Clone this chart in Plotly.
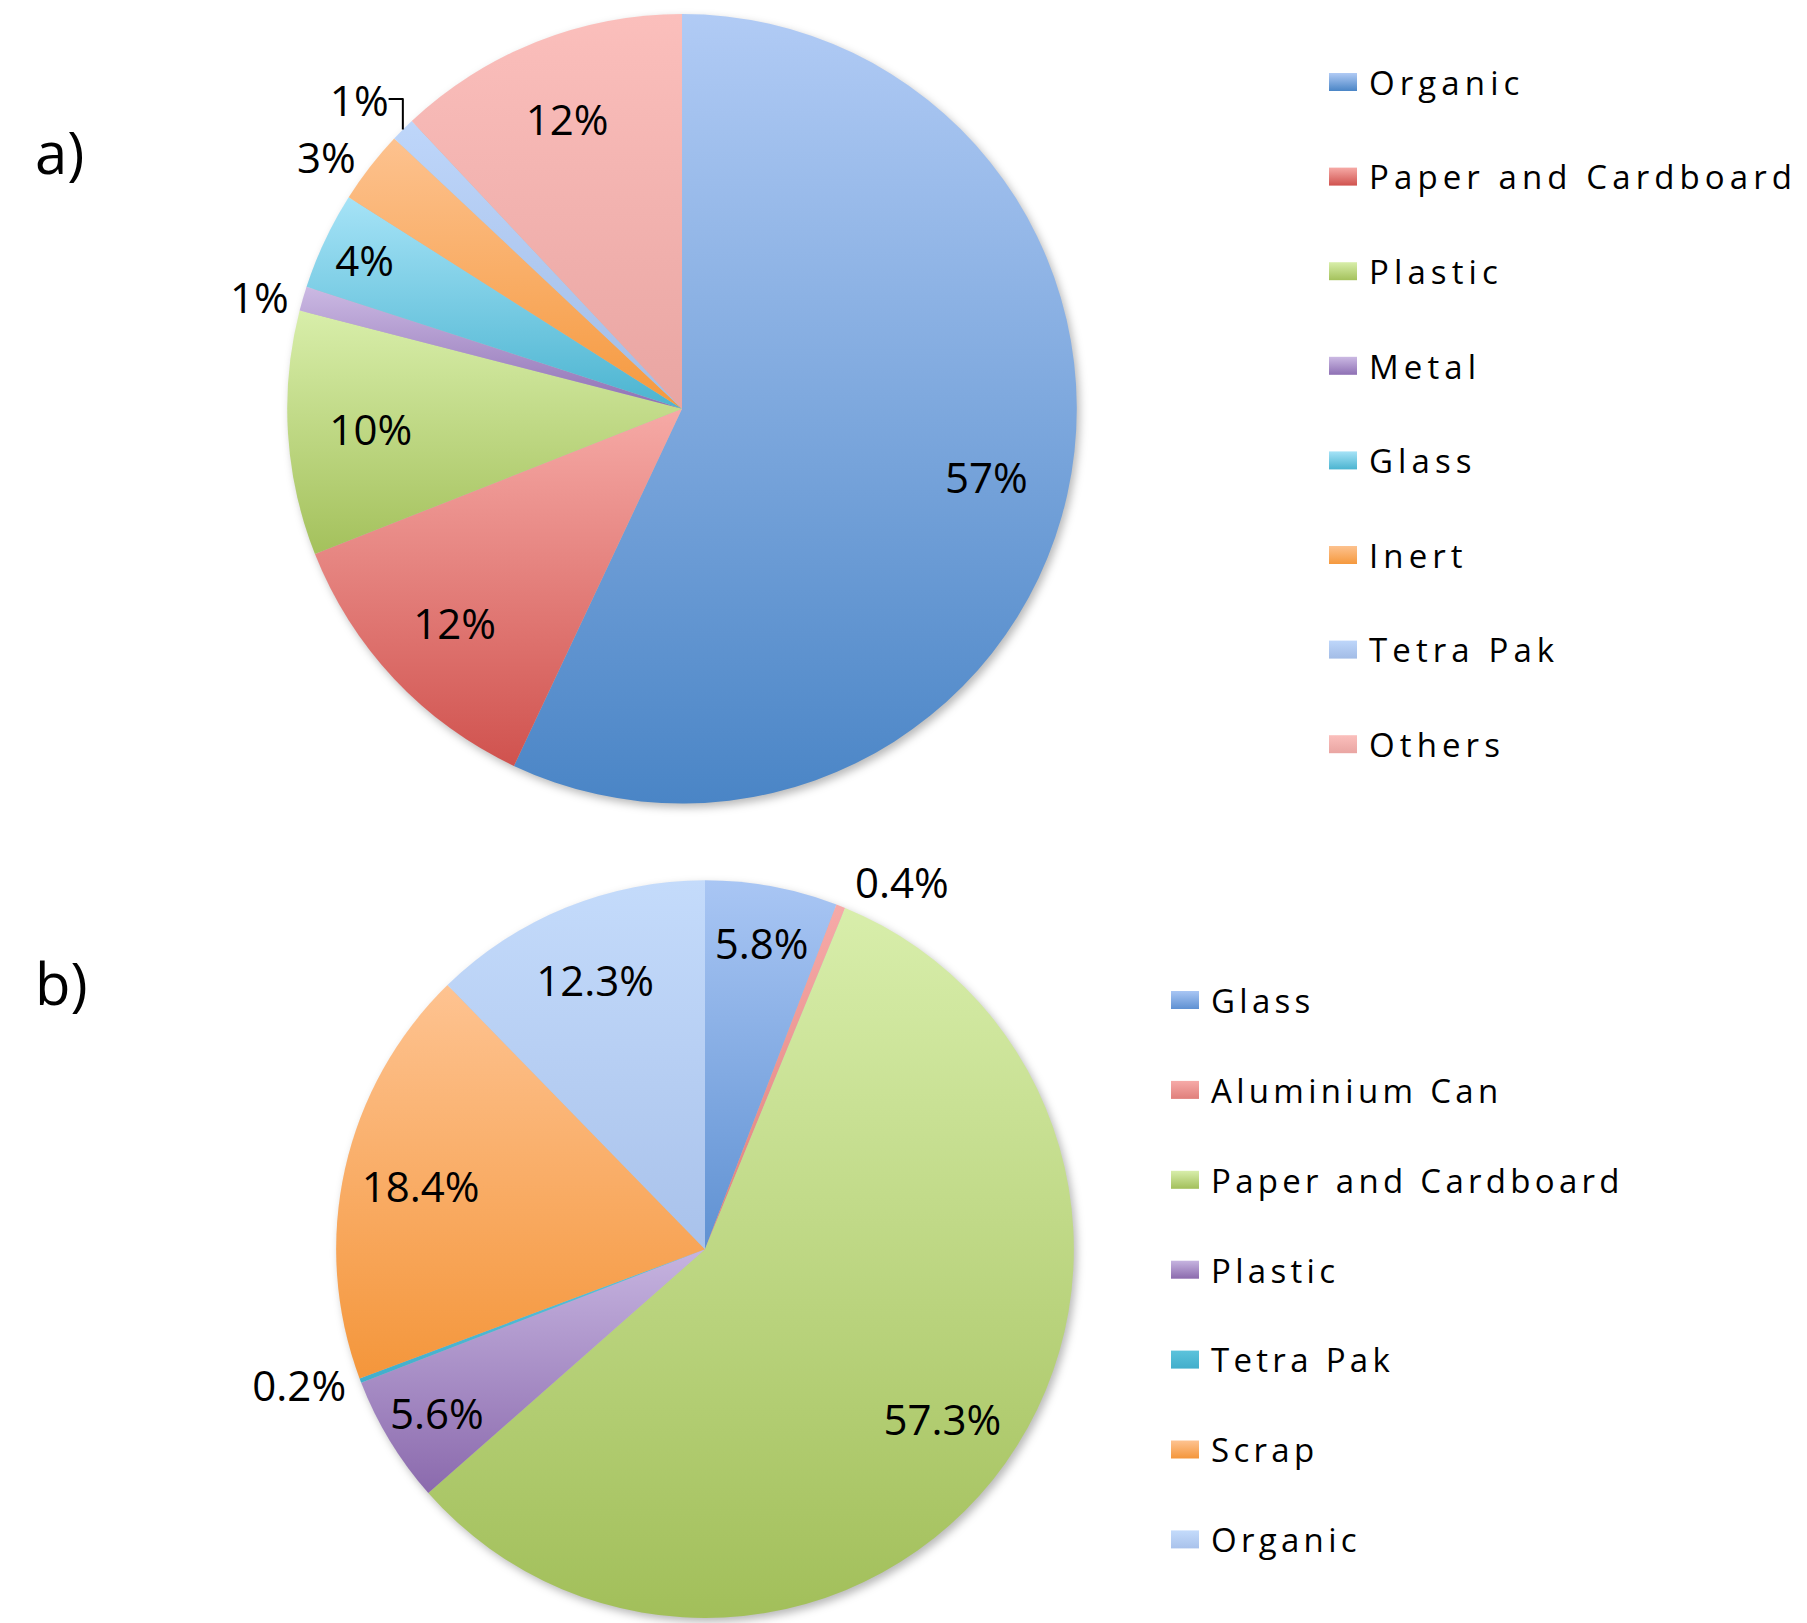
import json
import plotly.graph_objects as go

# ---------------- data ----------------
# a) composition of the waste stream (%)
a_labels = ["Organic", "Paper and Cardboard", "Plastic", "Metal", "Glass",
            "Inert", "Tetra Pak", "Others"]
a_values = [57, 12, 10, 1, 4, 3, 1, 12]

# b) composition of the recovered material (%)
b_labels = ["Glass", "Aluminium Can", "Paper and Cardboard", "Plastic",
            "Tetra Pak", "Scrap", "Organic"]
b_values = [5.8, 0.4, 57.3, 5.6, 0.2, 18.4, 12.3]

# ---------------- styles ----------------
a_colors = ["#79A4DC", "#E3857F", "#C3DC8A", "#B19BCF", "#7ACCE5",
            "#F9AD66", "#B4CDF1", "#F2B3B0"]
b_colors = ["#8EB0E6", "#F1A2A0", "#BED886", "#A78FC9", "#4BB6D3",
            "#F9AE66", "#B8CFF4"]
# vertical gradient (top, bottom) of each slice, as in the original
a_grad = [["#B1CBF5", "#4A85C6"], ["#F6AAA6", "#D0524E"], ["#D8EEAA", "#A4C15C"],
          ["#CBB9E3", "#8E70B4"], ["#A6E3F7", "#4BB4D0"], ["#FDC28F", "#F5993E"],
          ["#BED6FA", "#A2BCE6"], ["#FBBFBC", "#E9A5A2"]]
b_grad = [["#A9C6F4", "#5F91D2"], ["#F6AAA8", "#E07F7B"], ["#D8EEAB", "#A2BF5A"],
          ["#C6B4E0", "#8B6AAD"], ["#5CC3DC", "#42AECB"], ["#FEC391", "#F4963B"],
          ["#C4DBFB", "#A9C2EB"]]
a_textpos = ["inside", "inside", "inside", "outside", "inside",
             "outside", "outside", "inside"]
b_textpos = ["inside", "outside", "inside", "inside", "outside",
             "inside", "inside"]

W, H = 1807, 1623
FONT = "Open Sans"


def dom(cx, cy, r):
    return dict(x=[max(0, (cx - r) / W), min(1, (cx + r) / W)],
                y=[max(0, (H - cy - r) / H), min(1, (H - cy + r) / H)])


dom_a = dom(682, 410, 396)
dom_b = dom(705, 1253, 370)


def slices(labels, values, colors, domain, legend, group):
    return go.Pie(labels=labels, values=values, domain=domain, sort=False,
                  direction="clockwise", rotation=0,
                  marker=dict(colors=colors, line=dict(width=0)),
                  textinfo="none", legend=legend, legendgroup=group,
                  hoverinfo="label+percent")


def texts(labels, values, domain, textpos, legend, group):
    return go.Pie(labels=labels, values=values, domain=domain, sort=False,
                  direction="clockwise", rotation=0, hole=0.58,
                  marker=dict(colors=["rgba(0,0,0,0)"] * len(values),
                              line=dict(width=0)),
                  texttemplate="%{value}%", textposition=textpos,
                  insidetextorientation="horizontal",
                  textfont=dict(family=FONT, size=42, color="black"),
                  outsidetextfont=dict(family=FONT, size=42, color="black"),
                  legend=legend, legendgroup=group + "_txt",
                  showlegend=False, hoverinfo="skip")


fig = go.Figure()
fig.add_trace(slices(a_labels, a_values, a_colors, dom_a, "legend", "a"))
fig.add_trace(texts(a_labels, a_values, dom_a, a_textpos, "legend", "a"))
fig.add_trace(slices(b_labels, b_values, b_colors, dom_b, "legend2", "b"))
fig.add_trace(texts(b_labels, b_values, dom_b, b_textpos, "legend2", "b"))

leg_common = dict(xanchor="left", yanchor="top", bgcolor="rgba(0,0,0,0)",
                  borderwidth=0, traceorder="normal",
                  font=dict(family=FONT, size=33, color="black"))

fig.update_layout(
    width=W, height=H,
    margin=dict(l=0, r=0, t=0, b=0),
    paper_bgcolor="white", plot_bgcolor="white",
    font=dict(family=FONT, color="black"),
    showlegend=True,
    legend=dict(x=1329 / W, y=1 - 54 / H, **leg_common),
    legend2=dict(x=1171 / W, y=1 - 972 / H, **leg_common),
    annotations=[
        dict(text="a)", x=33 / W, y=1 - 152 / H, xref="paper", yref="paper",
             xanchor="left", yanchor="middle", showarrow=False,
             font=dict(family=FONT, size=58, color="black")),
        dict(text="b)", x=33 / W, y=1 - 986 / H, xref="paper", yref="paper",
             xanchor="left", yanchor="middle", showarrow=False,
             font=dict(family=FONT, size=58, color="black")),
    ],
)

CFG = {"legend": {"first": 82, "step": 94.6, "ls": 5.1, "trace": 0},
       "legend2": {"first": 1000, "step": 89.9, "ls": 4.3, "trace": 2}}
GRAD = {"0": a_grad, "2": b_grad}

js = """
var gd = document.getElementById('{plot_id}');
var CFG = %s;
var GRAD = %s;
var NS = 'http://www.w3.org/2000/svg';
function gradUrl(ti, k){
  var cols = GRAD[String(ti)] && GRAD[String(ti)][k];
  if(!cols) return null;
  var id = 'slgrad_' + ti + '_' + k;
  if(!document.getElementById(id)){
    var defs = gd.querySelector('svg.main-svg defs');
    if(!defs) return null;
    var lgd = document.createElementNS(NS, 'linearGradient');
    lgd.setAttribute('id', id);
    lgd.setAttribute('x1', '0'); lgd.setAttribute('y1', '0');
    lgd.setAttribute('x2', '0'); lgd.setAttribute('y2', '1');
    [[0, cols[0]], [1, cols[1]]].forEach(function(s){
      var st = document.createElementNS(NS, 'stop');
      st.setAttribute('offset', s[0]); st.setAttribute('stop-color', s[1]);
      lgd.appendChild(st);
    });
    defs.appendChild(lgd);
  }
  return 'url(#' + id + ')';
}
function fixAll(){
  document.body.style.margin = '0';
  var traces = gd.querySelectorAll('g.pielayer g.trace');
  Object.keys(GRAD).forEach(function(tk){
    var tr = traces[parseInt(tk, 10)];
    if(!tr) return;
    tr.style.filter = 'drop-shadow(3px 4px 4px rgba(0,0,0,0.28))';
    tr.querySelectorAll('g.slice path.surface').forEach(function(p, k){
      var u = gradUrl(tk, k);
      if(u) p.style.setProperty('fill', u);
    });
  });
  Object.keys(CFG).forEach(function(key){
    var c = CFG[key];
    var lg = gd.querySelector('g.' + key);
    if(!lg) return;
    var m = /translate\\(\\s*([-\\d.e]+)[ ,]+([-\\d.e]+)/.exec(lg.getAttribute('transform') || '');
    var ty = m ? parseFloat(m[2]) : 0;
    var sb = lg.querySelector('.scrollbox');
    if(sb) sb.removeAttribute('clip-path');
    lg.querySelectorAll('g.traces').forEach(function(it, k){
      it.setAttribute('transform', 'translate(0,' + (c.first - ty + k * c.step) + ')');
      var p = it.querySelector('path.legendpie');
      if(p){
        p.setAttribute('d', 'M14,9H-14V-9H14Z');
        p.setAttribute('transform', 'translate(14,0)');
        var u = gradUrl(c.trace, k);
        if(u) p.style.setProperty('fill', u);
      }
      it.querySelectorAll('text').forEach(function(t){
        t.setAttribute('letter-spacing', c.ls + 'px');
        t.style.setProperty('letter-spacing', c.ls + 'px', 'important');
      });
    });
  });
}
fixAll();
gd.on('plotly_afterplot', fixAll);
setTimeout(fixAll, 100);
setTimeout(fixAll, 400);
setTimeout(fixAll, 1000);
""" % (json.dumps(CFG), json.dumps(GRAD))

fig.write_html("out.html", include_plotlyjs=True,
               config={"responsive": False, "displayModeBar": False},
               post_script=js)
